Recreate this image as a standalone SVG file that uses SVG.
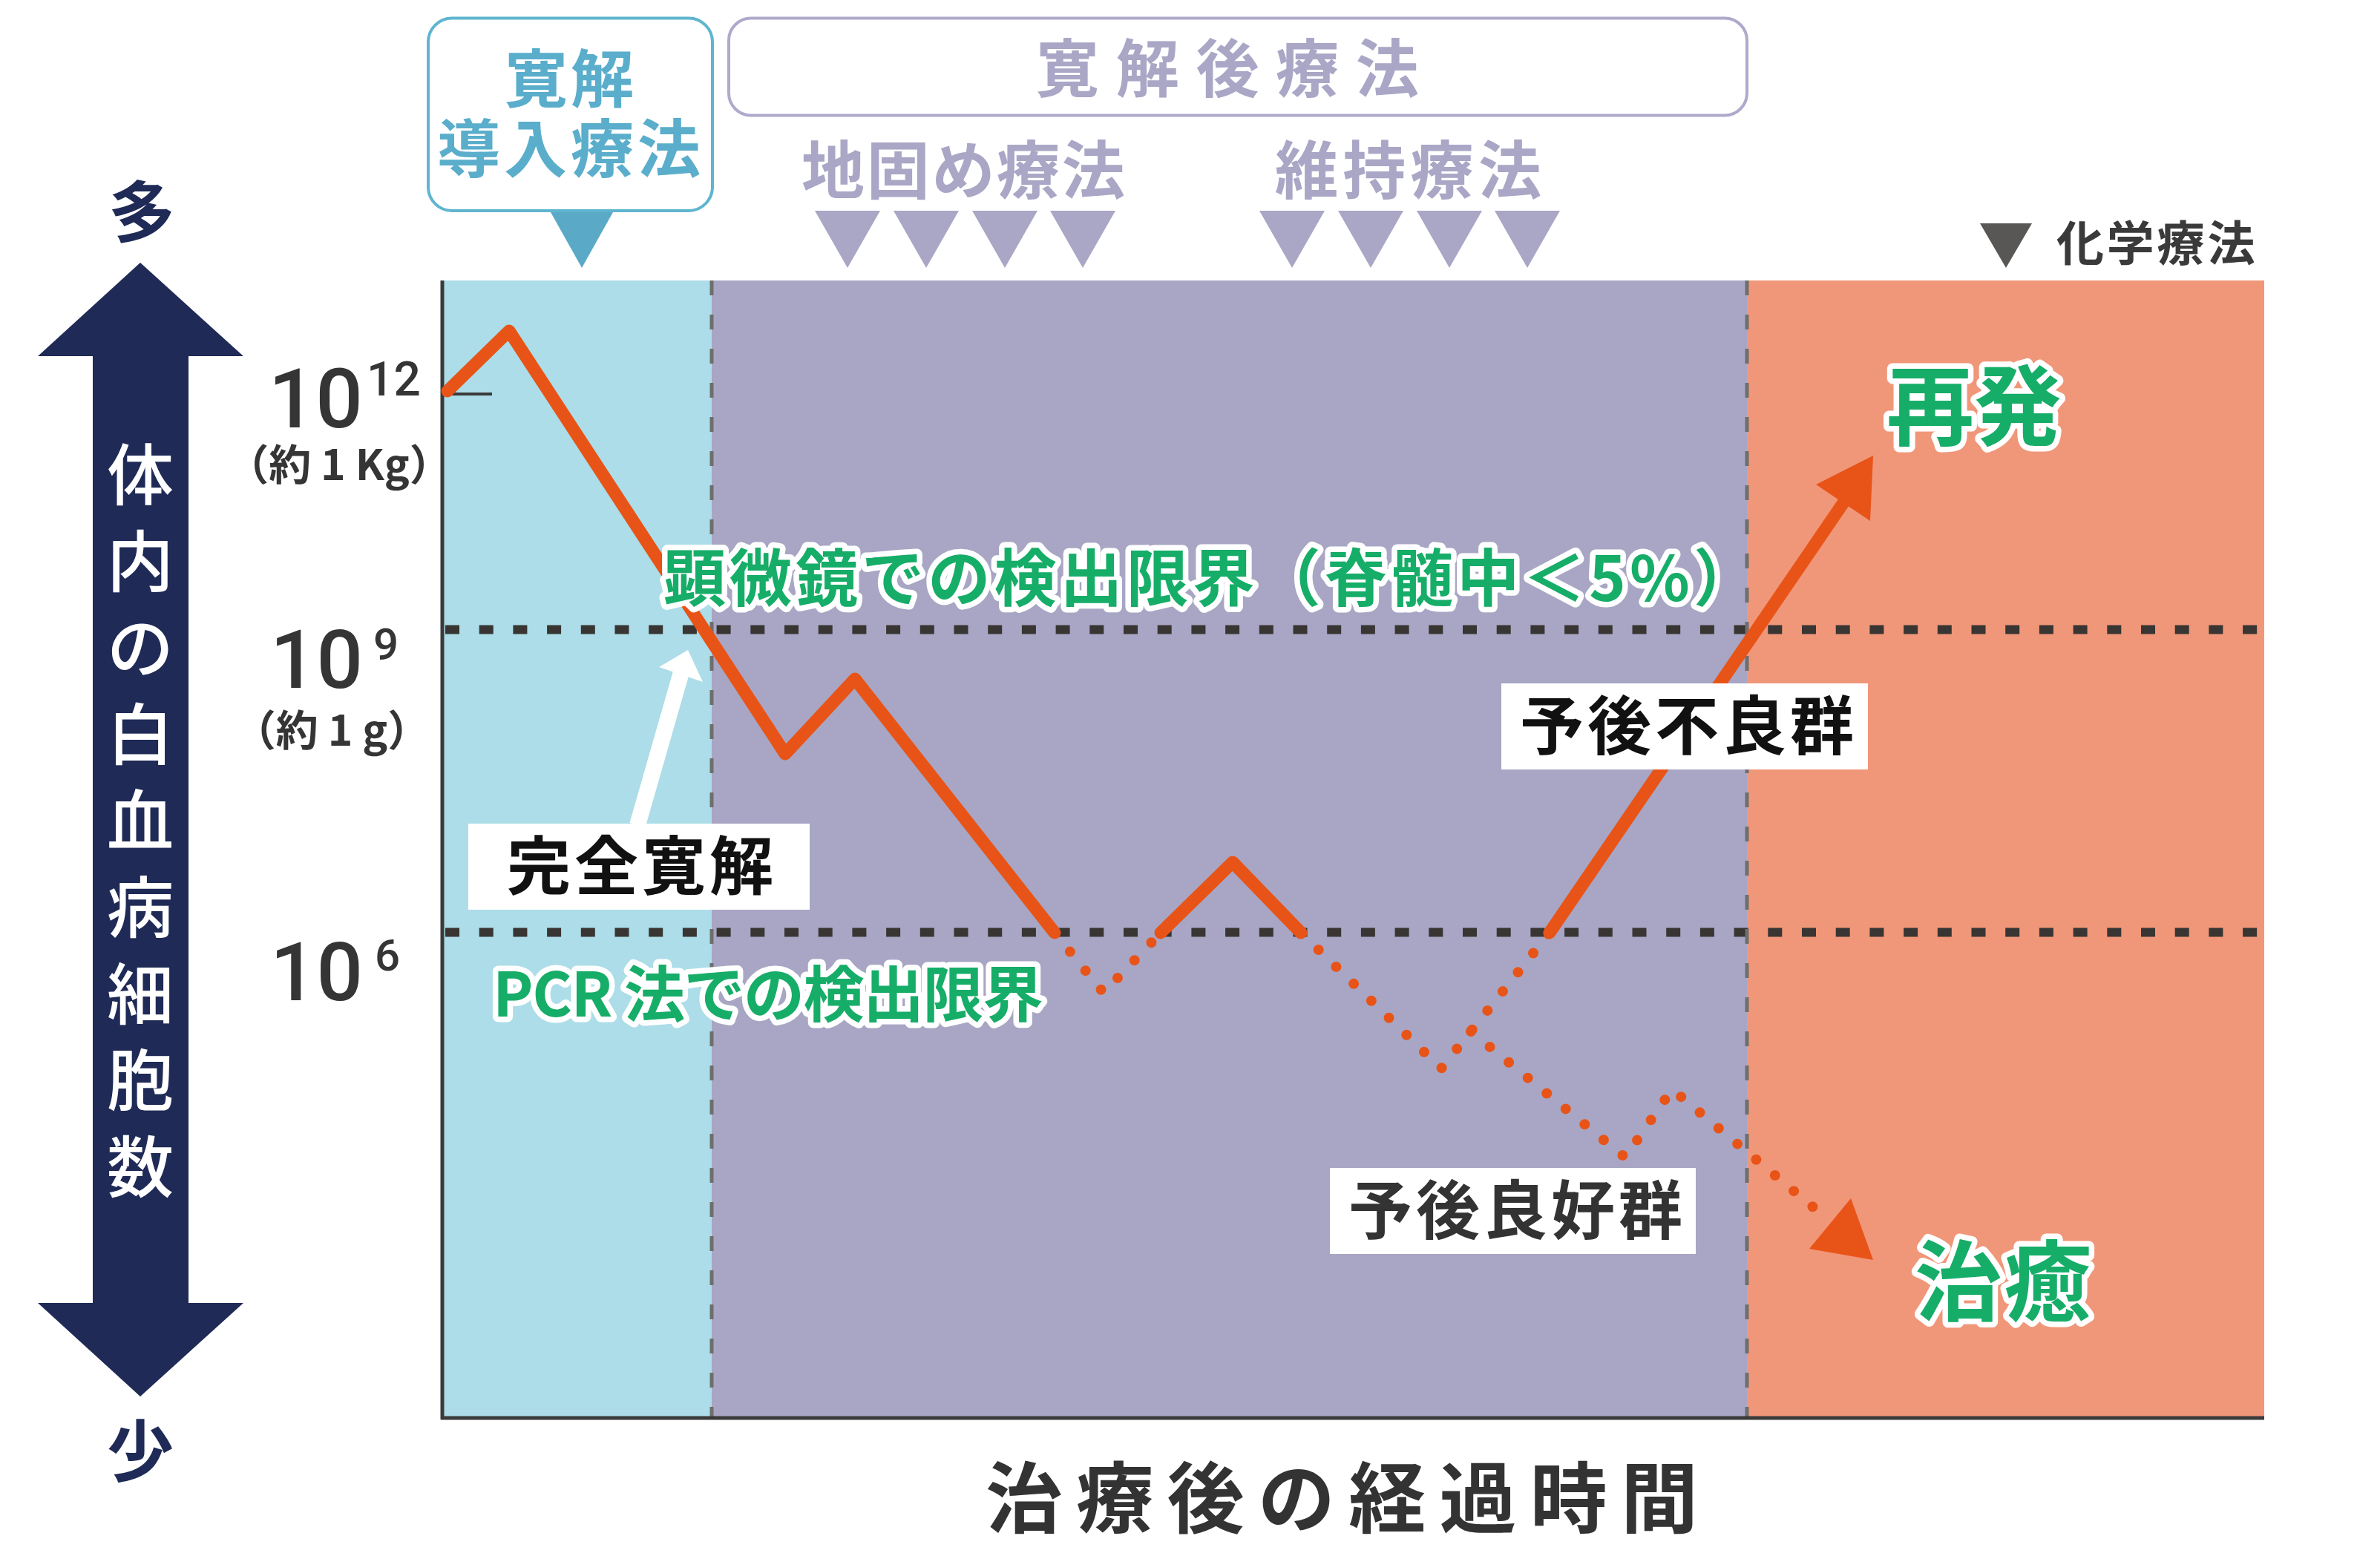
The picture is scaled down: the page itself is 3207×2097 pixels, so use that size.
<svg xmlns="http://www.w3.org/2000/svg" width="3207" height="2097" viewBox="0 0 3207 2097">
<style>
.jp{font-family:"Noto Sans CJK JP","Noto Sans CJK SC",sans-serif;font-weight:700}
.num{font-family:Roboto,"Liberation Sans",sans-serif;font-weight:500;fill:#353535}
.grn{fill:#16ad68;stroke:#fff;stroke-width:15;paint-order:stroke;stroke-linejoin:round}
.pur{fill:#a9a6c6}
.vt{fill:#fff;font-size:90px;font-weight:500}
.hdot{fill:none;stroke:#383533;stroke-width:12;stroke-dasharray:19 26.7}
.vdash{fill:none;stroke:#6e6e6e;stroke-width:5;stroke-dasharray:20 26}
.solid{fill:none;stroke:#e85417;stroke-width:17;stroke-linejoin:round;stroke-linecap:round}
.dot{fill:none;stroke:#e85417;stroke-width:14;stroke-linecap:round;stroke-dasharray:0 33}
.tri{fill:#a9a6c6}
</style>

<g id="regions">
<rect x="596" y="378" width="363" height="1533" fill="#acdde8"/>
<rect x="959" y="378" width="1395" height="1533" fill="#a8a6c4"/>
<rect x="2354" y="378" width="697" height="1533" fill="#f0977a"/>
<line x1="600" y1="848.5" x2="3051" y2="848.5" class="hdot"/>
<line x1="600" y1="1256.5" x2="3051" y2="1256.5" class="hdot"/>
<line x1="959" y1="378" x2="959" y2="1911" class="vdash"/>
<line x1="2354" y1="378" x2="2354" y2="1911" class="vdash"/>
<line x1="596" y1="378" x2="596" y2="1913" stroke="#3a3a3a" stroke-width="5"/>
<line x1="594" y1="1911" x2="3051" y2="1911" stroke="#3a3a3a" stroke-width="5"/>
<line x1="600" y1="531" x2="663" y2="531" stroke="#3a3a3a" stroke-width="4"/>
</g>

<g id="y-axis">
<polygon points="189,354 328,480 254,480 254,1756 328,1756 189,1882 51,1756 125,1756 125,480 51,480" fill="#1f2a56"/>
<text class="jp" x="191" y="319" font-size="90" font-weight="500" fill="#1f2a56" text-anchor="middle">多</text>
<text class="jp" x="189" y="1989" font-size="90" font-weight="500" fill="#1f2a56" text-anchor="middle">少</text>
<g class="jp vt" text-anchor="middle">
<text x="189" y="673">体</text>
<text x="189" y="790">内</text>
<text x="189" y="906">の</text>
<text x="189" y="1023">白</text>
<text x="189" y="1139">血</text>
<text x="189" y="1256">病</text>
<text x="189" y="1373">細</text>
<text x="189" y="1489">胞</text>
<text x="189" y="1606">数</text>
</g>
</g>

<g id="scale-labels">
<text class="num" x="489" y="576" font-size="112" text-anchor="end">10</text>
<text class="num" x="494" y="533" font-size="64">12</text>
<text class="jp" x="457" y="647" font-size="57" font-weight="500" fill="#353535" text-anchor="middle">（約 1 Kg）</text>
<text class="num" x="489" y="927" font-size="110" text-anchor="end">10</text>
<text class="num" x="503" y="889" font-size="60">9</text>
<text class="jp" x="447" y="1005" font-size="57" font-weight="500" fill="#353535" text-anchor="middle">（約 1 g）</text>
<text class="num" x="489" y="1348" font-size="110" text-anchor="end">10</text>
<text class="num" x="505" y="1308" font-size="60">6</text>
</g>

<g id="induction">
<rect x="577" y="24.5" width="383" height="259.5" rx="32" fill="#fff" stroke="#5fb5cf" stroke-width="4"/>
<polygon points="742,286 826,286 784,361" fill="#5aaac7"/>
<text class="jp" x="680" y="138" font-size="85" letter-spacing="4" fill="#5aaecb">寛解</text>
<text class="jp" x="589" y="232" font-size="85" letter-spacing="5" fill="#5aaecb">導入療法</text>
</g>

<g id="post-remission">
<rect x="982" y="24.5" width="1372" height="131" rx="30" fill="#fff" stroke="#aeaacc" stroke-width="4"/>
<text class="jp pur" x="1396" y="124" font-size="85" letter-spacing="22.7">寛解後療法</text>
</g>

<g id="consolidation">
<text class="jp pur" x="1080" y="261" font-size="85" letter-spacing="2.7">地固め療法</text>
<polygon class="tri" points="1098,284 1186,284 1142,361"/>
<polygon class="tri" points="1204,284 1292,284 1248,361"/>
<polygon class="tri" points="1310,284 1398,284 1354,361"/>
<polygon class="tri" points="1415,284 1503,284 1459,361"/>
</g>

<g id="maintenance">
<text class="jp pur" x="1718" y="261" font-size="85" letter-spacing="6.3">維持療法</text>
<polygon class="tri" points="1697,284 1785,284 1741,361"/>
<polygon class="tri" points="1803,284 1891,284 1847,361"/>
<polygon class="tri" points="1909,284 1997,284 1953,361"/>
<polygon class="tri" points="2014,284 2102,284 2058,361"/>
</g>

<g id="legend">
<polygon points="2668,301 2738,301 2703,361" fill="#595755"/>
<text class="jp" x="2771" y="351" font-size="64" letter-spacing="3.8" fill="#3a3a3a">化学療法</text>
</g>

<g id="connectors">
<path class="solid" d="M603,527 L686,446 L1058,1016 L1152,915 L1421,1257"/>
<path class="dot" d="M1421,1257 L1487,1338 L1564,1257"/>
<path class="solid" d="M1564,1257 L1661,1162 L1753,1257"/>
<path class="dot" d="M1753,1257 L1942,1440 L2088,1257"/>
<path class="solid" d="M2088,1257 L2485,676"/>
<polygon points="2524,614 2447,653 2520,702" fill="#e85417"/>
<path class="dot" d="M1982,1390 L2190,1560 L2253,1468 L2460,1641"/>
<polygon points="2524,1698 2494,1615 2438,1683" fill="#e85417"/>
<line x1="859" y1="1112" x2="918" y2="906" stroke="#fff" stroke-width="22"/>
<polygon points="927,876 888,899 947,919" fill="#fff"/>
</g>

<g id="limit-microscope">
<text class="jp grn" x="894" y="810" font-size="84" textLength="1472" lengthAdjust="spacing">顕微鏡での検出限界（脊髄中＜5%）</text>
</g>

<g id="limit-pcr">
<text class="jp grn" x="664" y="1370" font-size="82" textLength="742" lengthAdjust="spacing">PCR 法での検出限界</text>
</g>

<g id="complete-remission">
<rect x="631" y="1110" width="460" height="116" fill="#fff"/>
<text class="jp" x="683" y="1199" font-size="86" letter-spacing="5" fill="#111">完全寛解</text>
</g>

<g id="poor-prognosis">
<rect x="2023" y="921" width="494" height="116" fill="#fff"/>
<text class="jp" x="2048" y="1010" font-size="86" letter-spacing="5" fill="#111">予後不良群</text>
</g>

<g id="good-prognosis">
<rect x="1792" y="1574" width="493" height="116" fill="#fff"/>
<text class="jp" x="1817" y="1663" font-size="86" letter-spacing="5" fill="#333">予後良好群</text>
</g>

<g id="relapse">
<text class="jp grn" x="2542" y="591" font-size="118">再発</text>
</g>

<g id="cure">
<text class="jp grn" x="2580" y="1771" font-size="118" letter-spacing="2">治癒</text>
</g>

<g id="x-axis-title">
<text class="jp" x="1328" y="2058" font-size="104" letter-spacing="18.3" fill="#333">治療後の経過時間</text>
</g>
</svg>
